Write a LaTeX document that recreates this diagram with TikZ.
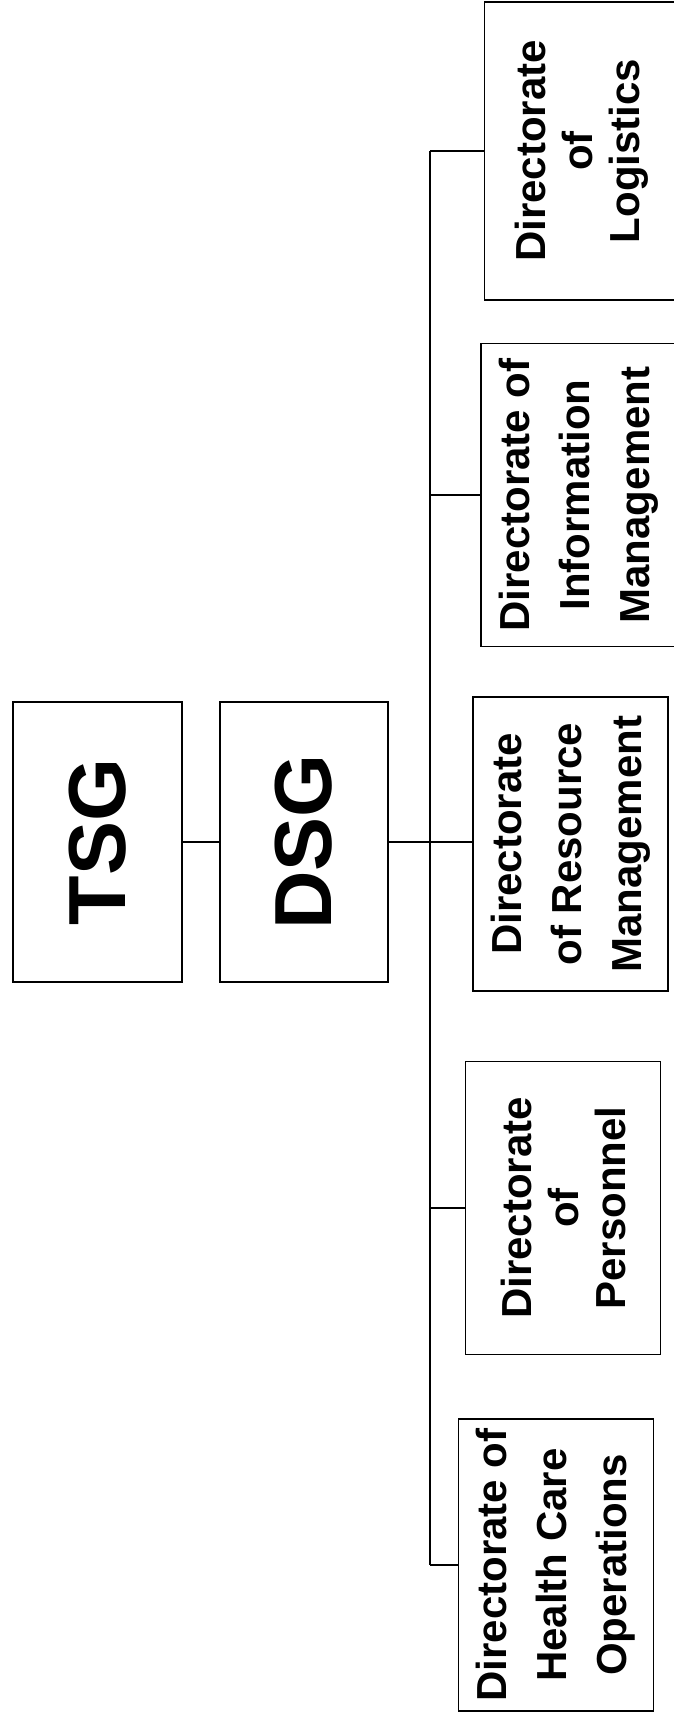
\documentclass[tikz,border=0pt]{standalone}
\usepackage{fontspec}
\setmainfont{Liberation Sans}
\tikzset{
  unitbox/.style={draw, line width=1.5pt, rotate=90, inner sep=0pt, align=center,
    minimum height=195pt, minimum width=294pt,
    font=\bfseries\fontsize{42}{60}\selectfont},
  tightbox/.style={unitbox, font=\bfseries\fontsize{42}{47}\selectfont},
  headbox/.style={unitbox, minimum height=169pt, minimum width=280pt,
    font=\bfseries\fontsize{81}{90}\selectfont},
  link/.style={line width=1.2pt}
}
\begin{document}
\begin{tikzpicture}[x=1pt,y=-1pt]
  \useasboundingbox (0,0) rectangle (674,1713);
  % top of the chart
  \node[headbox] (tsg) at (97.5,842) {TSG};
  \node[headbox, minimum height=168pt] (dsg) at (304,842) {DSG};
  % directorates (rotated, so north is the left side)
  \node[tightbox, minimum width=298pt] (log) at (582,151) {Directorate\\of\\Logistics};
  \node[unitbox, minimum width=303pt] (inf) at (578.5,495) {Directorate of\\Information\\Management};
  \node[unitbox] (res) at (570.5,844) {Directorate\\of Resource\\Management};
  \node[tightbox, minimum width=293pt] (per) at (563,1208) {Directorate\\of\\Personnel};
  \node[unitbox, minimum width=292pt] (hco) at (556,1565) {Directorate of\\Health Care\\Operations};
  \coordinate (bus) at (430,0);
  \draw[link] (tsg.south) -- (dsg.north);
  \draw[link] (dsg.south) -- (dsg.south -| res.north);
  \draw[link] (bus |- log.north) -- (bus |- hco.north);
  \foreach \d in {log,inf,per,hco}
    \draw[link] (bus |- \d.north) -- (\d.north);
\end{tikzpicture}
\end{document}
